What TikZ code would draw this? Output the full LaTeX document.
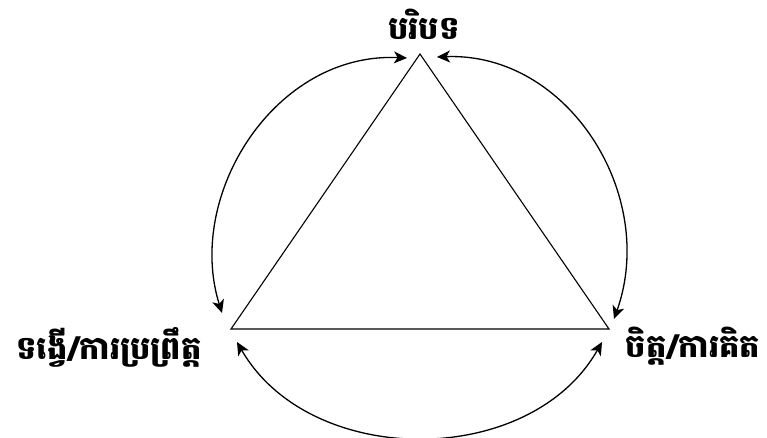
\documentclass[tikz,border=0pt]{standalone}
\usepackage{fontspec}
\newfontfamily\khmerfont[Script=Khmer]{Battambang}
\usetikzlibrary{arrows.meta}
\begin{document}
\begin{tikzpicture}[x=1pt,y=-1pt,
  lbl/.style={font=\khmerfont\bfseries\fontsize{32}{36}\selectfont, inner sep=0pt},
  tri/.style={line width=1.1pt, line join=miter},
  arc/.style={line width=1.3pt, {Stealth[length=13pt,width=12pt,inset=3.5pt]}-{Stealth[length=13pt,width=12pt,inset=3.5pt]}}]
\useasboundingbox (0,0) rectangle (767,438);
\coordinate (T) at (420,54);
\coordinate (L) at (231,329);
\coordinate (R) at (609,329);
\draw[tri] (T) -- (L) -- (R) -- cycle;
\node[lbl] (top) at (424,24) {បរិបទ};
\node[lbl] (left) at (109,347) {ទង្វើ/ការប្រព្រឹត្ត};
\node[lbl] (right) at (693,346) {ចិត្ត/ការគិត};
\coordinate (a1) at (407,58);
\coordinate (a2) at (222,313);
\coordinate (b1) at (437,57);
\coordinate (b2) at (614,319);
\coordinate (c1) at (237,342);
\coordinate (c2) at (602,342);
\draw[arc] (a2) .. controls (185,195) and (275,52) .. (a1);
\draw[arc] (b1) .. controls (568,52) and (658,195) .. (b2);
\draw[arc] (c1) .. controls (310,469) and (530,469) .. (c2);
\end{tikzpicture}
\end{document}
